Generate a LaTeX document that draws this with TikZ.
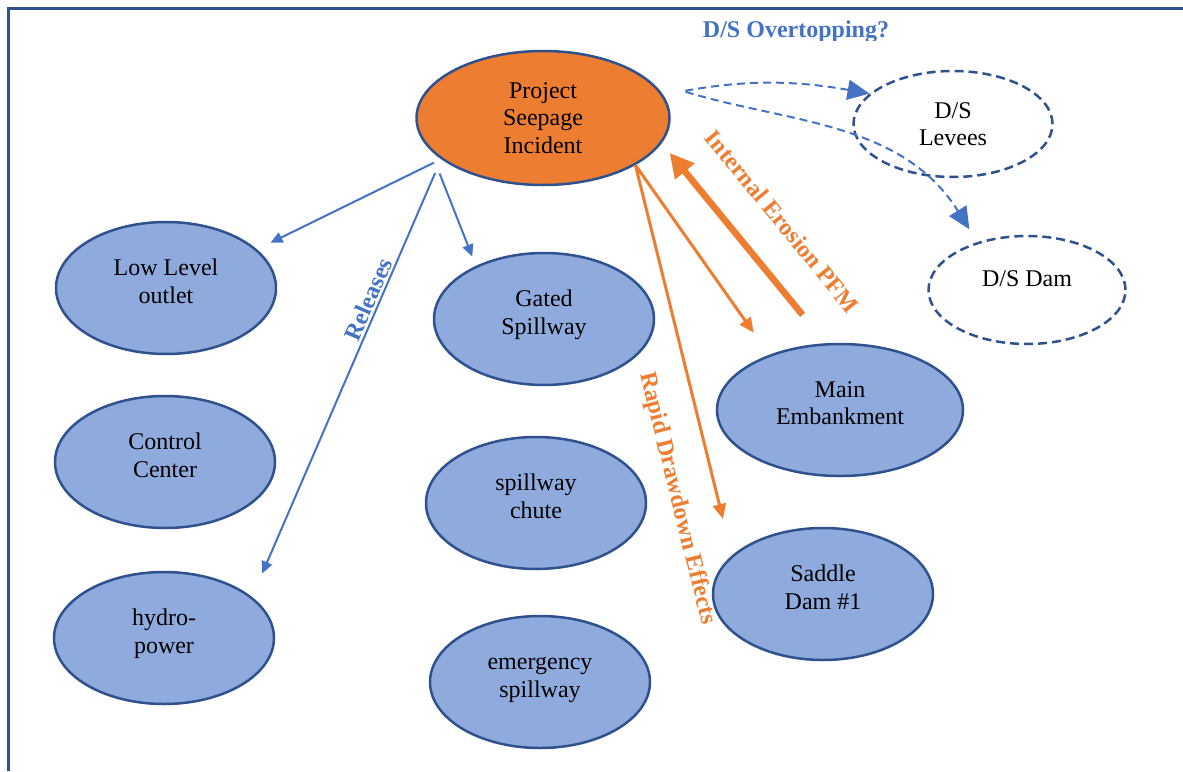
\documentclass[tikz,border=0pt]{standalone}
\usepackage{fontspec}
\setmainfont{Liberation Serif}
\usetikzlibrary{shapes.geometric, arrows.meta}

\definecolor{seeporange}{HTML}{ED7D31}
\definecolor{featblue}{HTML}{8FAADC}
\definecolor{edgeblue}{HTML}{2F528F}
\definecolor{flowblue}{HTML}{4472C4}

\begin{document}
\begin{tikzpicture}[
         x=0.5pt, y=-0.5pt,
         feature/.style={ellipse, draw=edgeblue, line width=1.25pt, fill=featblue, align=center,
                         inner sep=0pt, minimum width=110pt, minimum height=66pt, text depth=7pt,
                         font=\fontsize{12}{13.8}\selectfont},
         incident/.style={feature, fill=seeporange, text depth=0pt},
         downstream/.style={feature, fill=white, dash pattern=on 4.5pt off 2.5pt, text depth=0pt},
         release/.style={draw=flowblue, line width=1pt, -{Triangle[length=6pt, width=5.5pt]}},
         failure/.style={draw=seeporange, line width=1.5pt, -{Triangle[length=7.5pt, width=6.5pt]}},
         erosion/.style={draw=seeporange, line width=3.3pt, -{Triangle[length=12pt, width=12pt]}},
         dsflow/.style={draw=flowblue, line width=1pt, dash pattern=on 4pt off 2.5pt,
                        -{Triangle[length=11pt, width=10pt]}},
         pfm/.style={font=\fontsize{12}{14}\selectfont\bfseries, inner sep=0pt}
      ]
         \useasboundingbox (0,0) rectangle (1183,771);

         % Frame
         \draw[edgeblue, line width=1.5pt] (8.5,771) -- (8.5,8.5) -- (1183,8.5);

         % Nodes for the incident and project features
         \node[incident, minimum width=126.5pt, minimum height=67pt] (project) at (543,118) {Project\\Seepage\\Incident};
         \node[feature] (lowlevel) at (166,288) {Low Level\\outlet};
         \node[feature] (control) at (165,462) {Control\\Center};
         \node[feature] (hydro) at (164,638) {hydro-\\power};
         \node[feature] (gated) at (544,319) {Gated\\Spillway};
         \node[feature] (chute) at (536,503) {spillway\\chute};
         \node[feature, text depth=4.5pt] (emergency) at (540,682) {emergency\\spillway};
         \node[feature, minimum width=123pt] (mainemb) at (840,410) {Main\\Embankment};
         \node[feature] (saddle) at (823,594) {Saddle\\Dam \#1};

         % Downstream nodes
         \node[downstream, minimum width=99.5pt, minimum height=53pt, text depth=-2pt] (levees) at (953,124) {D/S\\Levees};
         \node[downstream, minimum width=98.5pt, minimum height=54pt, text depth=11pt] (dsdam) at (1027,290) {D/S Dam};

         \begin{scope}
            \clip (0,0) rectangle (1183,40);
            \node[pfm, text=flowblue, anchor=base] (overtop) at (796,37.5) {D/S Overtopping?};
         \end{scope}

         % Releases
         \draw[release, shorten <=4pt, shorten >=7.5pt] (project.202) -- (lowlevel.23);
         \draw[release, shorten <=12.5pt, shorten >=5pt] (project.196) -- (gated.142);
         \draw[release, shorten <=7.6pt, shorten >=12.8pt] (project.202)
            -- node[pfm, text=flowblue, sloped, above=1pt, pos=.33] {Releases} (hydro.25);

         % Failure modes
         \draw[failure, shorten >=13.4pt] (project.333) -- (mainemb.142);
         \draw[failure, shorten >=18.7pt] (project.333)
            -- node[pfm, text=seeporange, sloped, below=13.5pt, pos=.83] {Rapid Drawdown Effects} (saddle.157);
         \draw[erosion, shorten <=18.3pt, shorten >=6.3pt] (mainemb.102)
            -- node[pfm, text=seeporange, sloped, above=16pt, pos=.47] {Internal Erosion PFM} (project.348);

         % Downstream overtopping
         \draw[dsflow, shorten <=11.3pt] (project.11) to[out=10, in=170] (levees.160);
         \draw[dsflow, shorten <=18.5pt, shorten >=7.5pt] (project.19) to[out=-17, in=122] (dsdam.136);
      \end{tikzpicture}
\end{document}
